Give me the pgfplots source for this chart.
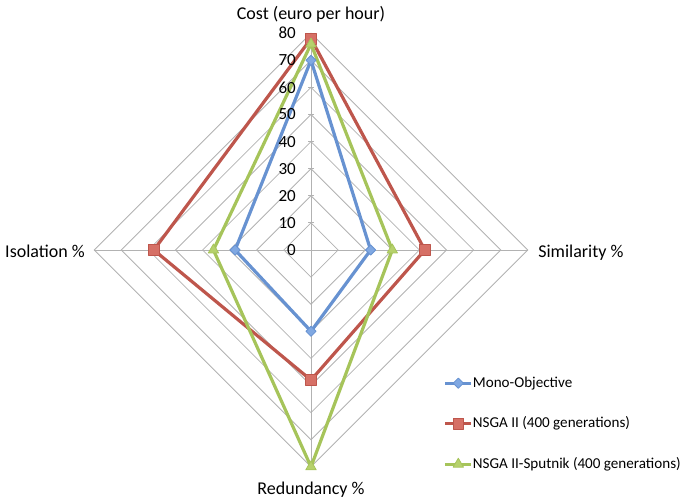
\documentclass[border=0pt]{standalone}
\usepackage{pgfplots}
\pgfplotsset{compat=1.18}
\usepackage{fontspec}
\setmainfont{Carlito}

\definecolor{gridgray}{RGB}{178,178,178}
\definecolor{monoline}{RGB}{103,146,209}
\definecolor{monofill}{RGB}{128,168,226}
\definecolor{nsgaline}{RGB}{190,86,76}
\definecolor{nsgafill}{RGB}{214,112,102}
\definecolor{sputline}{RGB}{166,196,90}
\definecolor{sputfill}{RGB}{182,209,108}

\begin{document}
\begin{tikzpicture}
\begin{axis}[
  name=ax,
  scale only axis,
  width=684pt, height=501pt,
  xmin=-114.76, xmax=137.64,
  ymin=-92.62, ymax=92.25,
  hide axis,
  clip=false,
  /pgf/number format/assume math mode=true,
  legend style={at={(0.6440,0.2535)}, anchor=north west, draw=none, fill=none,
    font=\fontsize{15.1}{18}\selectfont, row sep=26.5pt, column sep=0pt,
    nodes={inner sep=0pt, text height=11pt, text depth=3pt}},
  legend cell align=left,
  legend image code/.code={\draw[mark repeat=2,mark phase=2,#1]
    plot coordinates {(0pt,0pt)(13pt,0pt)(26pt,0pt)};},
  grid line/.style={draw=gridgray, line width=0.8pt, mark=none, forget plot},
  series/.style={line width=3.2pt, line join=round},
]
% diamond grid, one ring every 10
\pgfplotsinvokeforeach{10,20,30,40,50,60,70,80}{
  \addplot[grid line] coordinates {(#1,0)(0,#1)(-#1,0)(0,-#1)} -- cycle;
}
\addplot[grid line] coordinates {(0,-80)(0,80)};
\addplot[grid line] coordinates {(-80,0)(80,0)};
% ticks and labels of the value axis
\addplot[forget plot, draw=none, mark=-, mark size=3pt,
  mark options={draw=gridgray, line width=0.8pt}]
  coordinates {(0,10)(0,20)(0,30)(0,40)(0,50)(0,60)(0,70)(0,80)};
\addplot[forget plot, draw=none, mark=none, nodes near coords, point meta=y,
  nodes near coords style={anchor=east, xshift=-15pt, inner sep=0pt,
    font=\fontsize{17}{20}\selectfont}]
  coordinates {(0,0)(0,10)(0,20)(0,30)(0,40)(0,50)(0,60)(0,70)(0,80)};

% order: Cost (top), Similarity (right), Redundancy (bottom), Isolation (left)
\addplot[series, color=monoline, mark=square*, mark size=3.6pt,
  mark options={rotate=45, fill=monofill, draw=monoline, line width=0.8pt}]
  coordinates {(0,70)(22,0)(0,-30)(-28,0)} -- cycle;
\addlegendentry{Mono-Objective}
\addplot[series, color=nsgaline, mark=square*, mark size=5.3pt,
  mark options={fill=nsgafill, draw=nsgaline, line width=0.8pt}]
  coordinates {(0,78)(42,0)(0,-48)(-58,0)} -- cycle;
\addlegendentry{NSGA II (400 generations)}
\addplot[series, color=sputline, mark=triangle*, mark size=6pt,
  mark options={fill=sputfill, draw=sputline, line width=0.8pt}]
  coordinates {(0,76)(30,0)(0,-80)(-36,0)} -- cycle;
\addlegendentry{NSGA II-Sputnik (400 generations)}

\node[anchor=base, inner sep=0pt, font=\fontsize{18}{21}\selectfont]
  at (axis cs:0,85.1) {Cost (euro per hour)};
\node[anchor=base west, inner sep=0pt, font=\fontsize{18}{21}\selectfont]
  at (axis cs:83.8,-2.8) {Similarity \%};
\node[anchor=base, inner sep=0pt, font=\fontsize{18}{21}\selectfont]
  at (axis cs:0,-90.2) {Redundancy \%};
\node[anchor=base east, inner sep=0pt, font=\fontsize{18}{21}\selectfont]
  at (axis cs:-83.4,-2.8) {Isolation \%};
\end{axis}
\pgfresetboundingbox
\path[use as bounding box] (ax.south west) rectangle (ax.north east);
\end{tikzpicture}
\end{document}
